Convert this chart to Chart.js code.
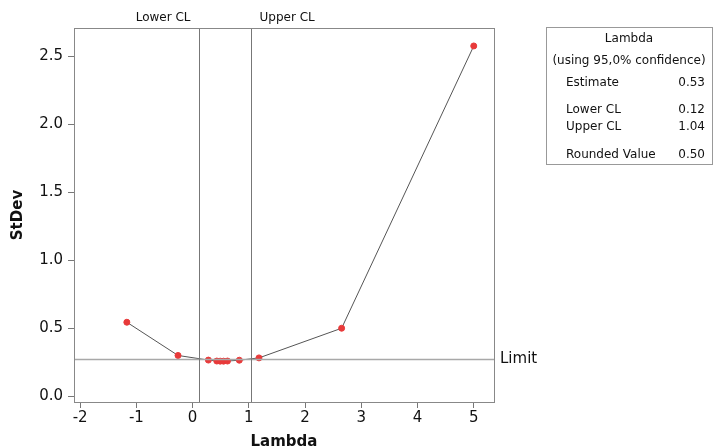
<!DOCTYPE html>
<html>
<head>
<meta charset="utf-8">
<script src="https://cdn.jsdelivr.net/npm/chart.js@4/dist/chart.umd.min.js"></script>
<style>
  html, body { margin: 0; padding: 0; background: #fff; }
  #wrap { width: 713px; height: 448px; position: relative; }
</style>
</head>
<body>
<div id="wrap"><canvas id="chart"></canvas></div>
<script>
// Box-Cox data (lambda vs stdev)
const lambdaVals = [-1.17, -0.26, 0.28, 0.43, 0.49, 0.55, 0.62, 0.83, 1.18, 2.65, 5.0];
const stdevVals = [0.544, 0.300, 0.266, 0.259, 0.258, 0.258, 0.259, 0.265, 0.282, 0.500, 2.574];

const xTickVals = [-2, -1, 0, 1, 2, 3, 4, 5];
const yTickVals = [0, 0.5, 1.0, 1.5, 2.0, 2.5];

// reference lines
const clNames = ['Lower CL', 'Upper CL'];
const clVals = [0.12, 1.04];
const limitVal = 0.277;

// info box rows
const boxTitle = ['Lambda', '(using 95,0% confidence)'];
const boxLabels = ['Estimate', 'Lower CL', 'Upper CL', 'Rounded Value'];
const boxValues = ['0.53', '0.12', '1.04', '0.50'];

const FONT = "'DejaVu Sans', Verdana, sans-serif";

const points = lambdaVals.map((x, i) => ({ x: x, y: stdevVals[i] }));

// Draw the frame, CL lines, limit line and info box
const overlayPlugin = {
    id: 'overlay',
    afterDatasetsDraw(chart) {
        const ctx = chart.ctx;
        const area = chart.chartArea;
        const xs = chart.scales.x;
        const ys = chart.scales.y;
        ctx.save();

        // limit line
        const ly = Math.round(ys.getPixelForValue(limitVal)) + 0.5;
        ctx.strokeStyle = '#a8a8a8';
        ctx.lineWidth = 1.5;
        ctx.beginPath();
        ctx.moveTo(area.left, ly);
        ctx.lineTo(area.right, ly);
        ctx.stroke();
        ctx.fillStyle = '#111';
        ctx.font = '15px ' + FONT;
        ctx.textAlign = 'left';
        ctx.textBaseline = 'middle';
        ctx.fillText('Limit', area.right + 6, ly);

        // confidence limit lines
        ctx.strokeStyle = '#777';
        ctx.lineWidth = 1;
        ctx.font = '12px ' + FONT;
        clVals.forEach((v, i) => {
            const px = Math.round(xs.getPixelForValue(v)) + 0.5;
            ctx.beginPath();
            ctx.moveTo(px, area.top);
            ctx.lineTo(px, area.bottom);
            ctx.stroke();
            ctx.textAlign = i === 0 ? 'right' : 'left';
            ctx.fillText(clNames[i], i === 0 ? px - 9 : px + 8, 18);
        });

        // plot frame
        ctx.strokeStyle = '#888';
        ctx.strokeRect(Math.round(area.left) + 0.5, Math.round(area.top) + 0.5,
            Math.round(area.right - area.left), Math.round(area.bottom - area.top));

        // info box
        const bx = 546, by = 27, bw = 166, bh = 137;
        ctx.strokeStyle = '#999';
        ctx.strokeRect(bx + 0.5, by + 0.5, bw, bh);
        ctx.fillStyle = '#111';
        ctx.textAlign = 'center';
        ctx.fillText(boxTitle[0], bx + bw / 2, 39);
        ctx.fillText(boxTitle[1], bx + bw / 2, 61);
        const rowY = [83, 110, 127, 155];
        boxLabels.forEach((lab, i) => {
            ctx.textAlign = 'left';
            ctx.fillText(lab, 566, rowY[i]);
            ctx.textAlign = 'right';
            ctx.fillText(boxValues[i], 705, rowY[i]);
        });

        ctx.restore();
    }
};

new Chart(document.getElementById('chart'), {
    type: 'scatter',
    data: {
        datasets: [{
            data: points,
            showLine: true,
            borderColor: '#555',
            borderWidth: 1,
            pointBackgroundColor: '#e83a3a',
            pointBorderColor: '#e83a3a',
            pointRadius: 3,
            pointBorderWidth: 1
        }]
    },
    options: {
        responsive: true,
        maintainAspectRatio: false,
        animation: false,
        layout: { padding: { top: 28, right: 219, left: 0, bottom: 0 } },
        plugins: {
            legend: { display: false },
            tooltip: { enabled: false }
        },
        scales: {
            x: {
                type: 'linear',
                min: -2.11,
                max: 5.36,
                afterFit: s => { s.height = 46; },
                afterBuildTicks: s => { s.ticks = xTickVals.map(v => ({ value: v })); },
                grid: { drawOnChartArea: false, drawTicks: true, tickLength: 6, color: '#777' },
                border: { display: false },
                ticks: {
                    padding: 1,
                    color: '#111',
                    font: { family: FONT, size: 15 },
                    maxRotation: 0,
                    callback: v => String(v)
                },
                title: {
                    display: true,
                    text: 'Lambda',
                    color: '#111',
                    font: { family: FONT, size: 15, weight: 'bold', lineHeight: 1.0 },
                    padding: { top: 0, bottom: -2 }
                }
            },
            y: {
                type: 'linear',
                min: -0.042,
                max: 2.706,
                afterFit: s => { s.width = 74; },
                afterBuildTicks: s => { s.ticks = yTickVals.map(v => ({ value: v })); },
                grid: { drawOnChartArea: false, drawTicks: true, tickLength: 6, color: '#777' },
                border: { display: false },
                ticks: {
                    padding: 5,
                    color: '#111',
                    font: { family: FONT, size: 15 },
                    callback: v => v.toFixed(1)
                },
                title: {
                    display: true,
                    text: 'StDev',
                    color: '#111',
                    font: { family: FONT, size: 15, weight: 'bold' },
                    padding: { top: 9, bottom: 0 }
                }
            }
        }
    },
    plugins: [overlayPlugin]
});
</script>
</body>
</html>
